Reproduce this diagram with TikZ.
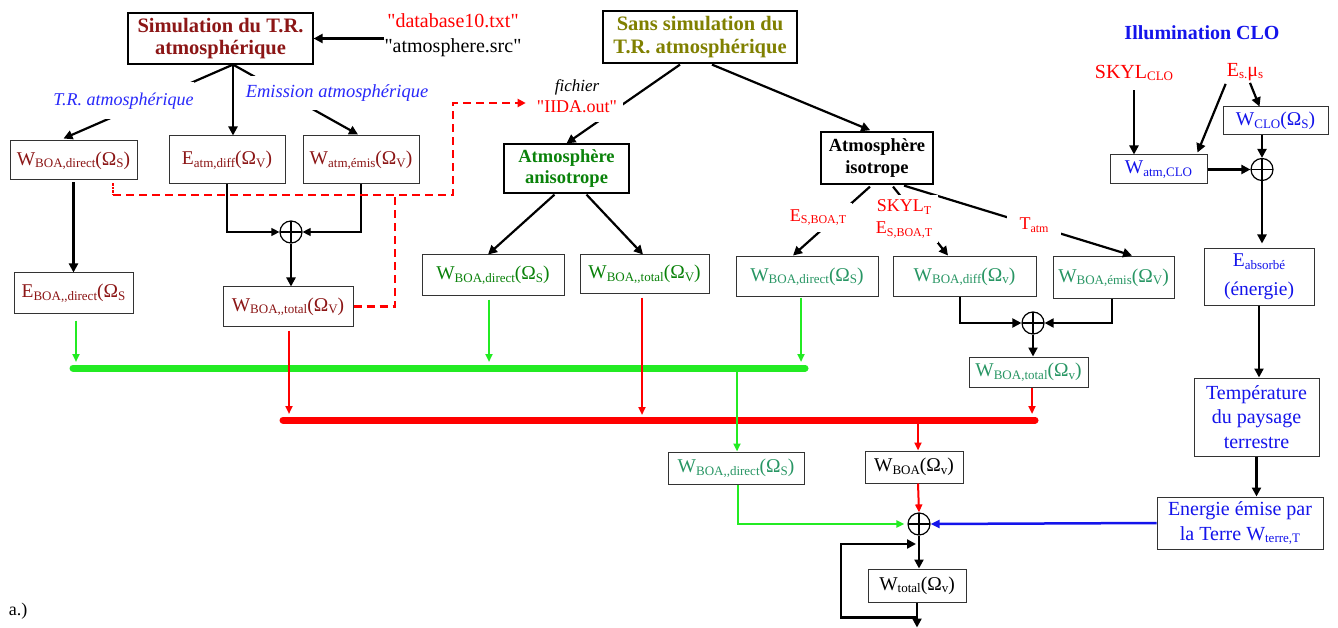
\documentclass[tikz,border=0pt]{standalone}
\usepackage{fontspec}
\setmainfont{Liberation Serif}[Ligatures=TeXOff]
\usetikzlibrary{arrows.meta,calc}
\definecolor{mar}{RGB}{140,22,22}
\definecolor{grn}{RGB}{10,130,10}
\definecolor{tl}{RGB}{40,150,100}
\definecolor{oliv}{RGB}{128,128,0}
\definecolor{rd}{RGB}{255,0,0}
\definecolor{bl}{RGB}{20,20,235}
\definecolor{blu2}{RGB}{40,40,250}
\definecolor{lg}{RGB}{35,235,35}
\newcommand\sbs[2][13]{\raisebox{-2.5pt}{\fontsize{#1}{#1}\selectfont #2}}
\tikzset{
 wh/.style 2 args={minimum width=#1pt, minimum height=#2pt},
 box/.style={draw=black!80, line width=1pt, fill=white, inner sep=0pt, align=center, font=\fontsize{19.5}{24}\selectfont},
 ttl/.style={box, draw=black, line width=1.2pt, font=\fontsize{20.5}{22.5}\selectfont\bfseries},
 midbox/.style={box, draw=black, line width=1.2pt, font=\fontsize{18.5}{21.5}\selectfont\bfseries},
 lbl/.style={fill=white, inner sep=0pt, align=center},
 sumc/.style={circle, draw, line width=1.2pt, minimum size=22pt, inner sep=0pt, fill=white,
   path picture={\draw[line width=1.2pt] (path picture bounding box.north) -- (path picture bounding box.south) (path picture bounding box.west) -- (path picture bounding box.east);}},
 blk/.style={draw=black, line width=2.2pt, -{Triangle[length=9pt,width=9pt]}},
 blkt/.style={draw=black, line width=1.2pt, -{Triangle[length=8pt,width=8pt]}},
 garr/.style={draw=lg, line width=2pt, -{Triangle[length=8pt,width=7pt]}},
 rarr/.style={draw=rd, line width=2pt, -{Triangle[length=8pt,width=7pt]}},
 barr/.style={draw=bl, line width=2.5pt, -{Triangle[length=9pt,width=8pt]}},
 busline/.style={line width=7pt, line cap=round},
 dashr/.style={draw=rd, line width=2.4pt, dash pattern=on 8pt off 5pt},
}
\begin{document}
\begin{tikzpicture}[x=1pt,y=-1pt]
\useasboundingbox (0,0) rectangle (1338,628);

% ---------- left part ----------
\node[ttl, text=mar, wh={185}{51}] (sim) at (220.5,38.5) {Simulation du T.R.\\atmosphérique};
\node[align=center, inner sep=0pt, font=\fontsize{20}{25}\selectfont] (files) at (453,35) {\textcolor{rd}{"database10.txt"}\\"atmosphere.src"};
\node[box, text=mar, wh={127}{39}] (wd) at (73.5,160.5) {W\sbs{BOA,direct}(Ω\sbs{S})};
\node[box, text=mar, wh={116}{48}] (ed) at (227,160) {E\sbs{atm,diff}(Ω\sbs{V})};
\node[box, text=mar, wh={116}{48}] (we) at (361,160) {W\sbs{atm,émis}(Ω\sbs{V})};
\node[box, text=mar, wh={119}{40}] (eb) at (73.5,293) {E\sbs{BOA,,direct}(Ω\sbs{S}};
\node[box, text=mar, wh={130}{39}] (wt) at (288,306.5) {W\sbs{BOA,,total}(Ω\sbs{V})};
\node[sumc] (s1) at (291,232) {};

% ---------- middle part ----------
\node[ttl, text=oliv, wh={194}{52}] (sans) at (700,37) {Sans simulation du\\T.R. atmosphérique};
\node[midbox, text=grn, wh={125}{49}] (aniso) at (566.5,168.5) {Atmosphère\\anisotrope};
\node[midbox, wh={112}{52}] (iso) at (877,158) {Atmosphère\\isotrope};
\node[box, text=grn, wh={142}{40}] (a1) at (493,275) {W\sbs{BOA,direct}(Ω\sbs{S})};
\node[box, text=grn, wh={129}{38}] (a2) at (644.5,274) {W\sbs{BOA,,total}(Ω\sbs{V})};
\node[box, text=tl, wh={142}{39}] (i1) at (807,276.5) {W\sbs{BOA,direct}(Ω\sbs{S})};
\node[box, text=tl, wh={143}{39}] (i2) at (964.5,276.5) {W\sbs{BOA,diff}(Ω\sbs{v})};
\node[box, text=tl, wh={121}{41}] (i3) at (1113.5,277.5) {W\sbs{BOA,émis}(Ω\sbs{V})};
\node[sumc] (s2) at (1033,323) {};
\node[box, text=tl, wh={119}{30}] (it) at (1028.5,372) {W\sbs{BOA,total}(Ω\sbs{v})};

% ---------- bottom part ----------
\node[box, text=tl, wh={136}{32}] (bd) at (736,468) {W\sbs{BOA,,direct}(Ω\sbs{S})};
\node[box, wh={98}{32}] (wb) at (914,467) {W\sbs{BOA}(Ω\sbs{v})};
\node[sumc] (s3) at (919,524) {};
\node[box, wh={98}{33}] (tot) at (917,585.5) {W\sbs{total}(Ω\sbs{v})};

% ---------- right part ----------
\node[font=\fontsize{20}{24}\selectfont\bfseries, text=bl, inner sep=0pt] (ill) at (1202,33) {Illumination CLO};
\node[font=\fontsize{20}{24}\selectfont, text=rd, inner sep=0pt] (skc) at (1134,73) {SKYL\sbs{CLO}};
\node[font=\fontsize{20}{24}\selectfont, text=rd, inner sep=0pt] (esm) at (1245,72) {E\sbs{s.}μ\sbs{s}};
\node[box, text=bl, wh={105}{28}] (wclo) at (1275.5,121) {W\sbs{CLO}(Ω\sbs{S})};
\node[box, text=bl, wh={97}{29}] (watm) at (1158.5,169.5) {W\sbs{atm,CLO}};
\node[sumc] (s4) at (1262,169.5) {};
\node[box, text=bl, wh={110}{56}, font=\fontsize{19.5}{29}\selectfont] (eabs) at (1259,277) {E\sbs{absorbé}\\(énergie)};
\node[box, text=bl, wh={125}{78}, font=\fontsize{20}{24.5}\selectfont] (temp) at (1256.5,417) {Température\\du paysage\\terrestre};
\node[box, text=bl, wh={166}{52}, font=\fontsize{20}{25}\selectfont] (en) at (1240,523) {Energie émise par\\la Terre W\sbs{terre,T}};

\node[font=\fontsize{18}{20}\selectfont, inner sep=0pt] (alab) at (18,611) {a.)};

% ---------- coordinates ----------
\coordinate (simB) at ($(sim.south)+(12.5,0)$);
\coordinate (gL) at (73,368);
\coordinate (gR) at (805,368);
\coordinate (rL) at (283,420);
\coordinate (rR) at (1035,420);

% ---------- connectors left ----------
\draw[blk] (files.west |- sim.east) -- (sim.east);
\draw[blk] (simB) -- ($(wd.north)+(-10,-2)$);
\draw[blk] (simB) -- (simB |- ed.north);
\draw[blk] (simB) -- ($(we.north)+(-3,-1)$);
\draw[blkt] (ed.south) |- (s1.west);
\draw[blkt] (we.south) |- (s1.east);
\draw[blk] (s1.south) -- (s1.south |- wt.north);
\draw[blk, shorten <=2pt] (wd.south) -- (wd.south |- eb.north);

% dashed red file link
\coordinate (d0) at ($(wd.south)+(39.5,3)$);
\coordinate (d1) at ($(d0)+(0,11.5)$);
\coordinate (d2) at (453,195);
\coordinate (d3) at (453,103);
\coordinate (d4) at (395,195);

% ---------- connectors middle ----------
\draw[blk] ($(sans.south)+(-20,1)$) -- (aniso.north);
\draw[blk, shorten >=3pt] ($(sans.south)+(12,1)$) -- ($(iso.north)+(-4,0)$);
\draw[blk] ($(aniso.south)+(-12,1)$) -- ($(a1.north)+(-5,0)$);
\draw[blk] ($(aniso.south)+(20,1)$) -- ($(a2.north)+(-1.5,0)$);
\draw[blk] ($(iso.south)+(-7,2)$) -- ($(i1.north)+(-14,-1)$);
\draw[blk] ($(iso.south)+(16,2)$) -- ($(i2.north)+(-16.5,-1)$);
\draw[blk] ($(iso.south)+(27,1)$) -- ($(i3.north)+(18.5,-1)$);
\draw[blk, line width=2pt] ($(i2.south)+(-5,0)$) |- (s2.west);
\draw[blk, line width=2pt] ($(i3.south)+(-1.5,0)$) |- (s2.east);
\draw[blk, line width=2pt] (s2.south) -- (s2.south |- it.north);

% ---------- bus lines ----------
\draw[lg, busline] (gL) -- (gR);
\draw[rd, busline] (rL) -- (rR);

\coordinate (ebs) at ($(eb.south)+(2.5,0)$);
\draw[garr, shorten <=7pt, shorten >=6pt] (ebs) -- (ebs |- gL);
\coordinate (a1s) at ($(a1.south)+(-4,0)$);
\draw[garr, shorten <=4pt, shorten >=6pt] (a1s) -- (a1s |- gL);
\coordinate (i1s) at ($(i1.south)+(-6,0)$);
\draw[garr, shorten <=1pt, shorten >=6pt] (i1s) -- (i1s |- gL);
\coordinate (wts) at ($(wt.south)+(1,0)$);
\draw[rarr, shorten <=4pt, shorten >=6pt] (wts) -- (wts |- rL);
\coordinate (a2s) at ($(a2.south)+(-2.5,0)$);
\draw[rarr, shorten <=4pt, shorten >=5pt] (a2s) -- (a2s |- rL);
\coordinate (its) at ($(it.south)+(3.5,0)$);
\draw[rarr, shorten >=6pt] (its) -- (its |- rR);

% ---------- connectors bottom ----------
\coordinate (bdt) at ($(bd.north)+(1,0)$);
\draw[garr] (bdt |- gL) -- (bdt);
\draw[garr, shorten >=3pt] ($(bd.south)+(2,0)$) |- (s3.west);
\coordinate (wbt) at ($(wb.north)+(4,0)$);
\draw[rarr] (wbt |- rL) -- (wbt);
\draw[rarr] (wbt |- wb.south) -- (s3.north);
\draw[barr] (en.west) -- (s3.east);
\draw[blk] (s3.south) -- (s3.south |- tot.north);
\coordinate (fbA) at ($(tot.south)+(0,15)$);
\coordinate (fbL) at (841,544);
\coordinate (outE) at ($(tot.south)+(0,25)$);
\draw[blk] (tot.south) -- (outE);
\draw[blk, shorten >=1pt] (fbA) -| (fbL) -- (tot.north |- fbL);

% ---------- connectors right ----------
\draw[blk, shorten <=9pt] (skc.south) -- (skc.south |- watm.north);
\draw[blk] ($(esm.south west)+(-1,3)$) -- ($(watm.north east)+(-10,-2)$);
\draw[blk] ($(esm.south)+(5,2)$) -- ($(wclo.north)+(-16,0)$);
\draw[blk] (s4.north |- wclo.south) -- (s4.north);
\draw[blk] (watm.east) -- (s4.west);
\draw[blk, shorten >=5pt] (s4.south) -- (s4.south |- eabs.north);
\draw[blk] (eabs.south) -- (eabs.south |- temp.north);
\draw[blk] (temp.south) -- (temp.south |- en.north);

% ---------- labels on connectors ----------
\node[lbl, font=\fontsize{18}{21}\selectfont\itshape, text=blu2, minimum height=37pt] (lTR) at (123.5,101) {T.R. atmosphérique};
\node[lbl, font=\fontsize{18.5}{21}\selectfont\itshape, text=blu2, minimum height=34pt] (lEm) at (337,93) {Emission atmosphérique};
\node[lbl, inner xsep=6pt, minimum height=52pt, font=\fontsize{18}{21}\selectfont] (iida) at (577,96) {{\fontsize{17}{21}\selectfont\itshape fichier}\\\textcolor{rd}{"IIDA.out"}};
\node[lbl, text=rd, font=\fontsize{18}{22}\selectfont, inner xsep=6pt, minimum height=29pt] (lE1) at (818,217.5) {E\sbs[12]{S,BOA,T}};
\node[lbl, text=rd, font=\fontsize{18}{22}\selectfont, inner xsep=6pt, minimum height=48pt] (lE2) at (904,219) {SKYL\sbs[12]{T}\\E\sbs[12]{S,BOA,T}};
\node[lbl, text=rd, font=\fontsize{18}{22}\selectfont, minimum width=54pt, minimum height=22pt] (lT) at (1034,225) {T\sbs[12]{atm}};

% dashed link (after labels)
\draw[rd, line width=2.4pt, densely dotted] (d0) -- (d1);
\draw[dashr, -{Triangle[length=8pt,width=8pt]}, shorten >=5pt] (d1) -- (d2) -- (d3) -- (iida.west |- d3);
\draw[dashr] (wt.east) -| (d4);
\end{tikzpicture}
\end{document}
